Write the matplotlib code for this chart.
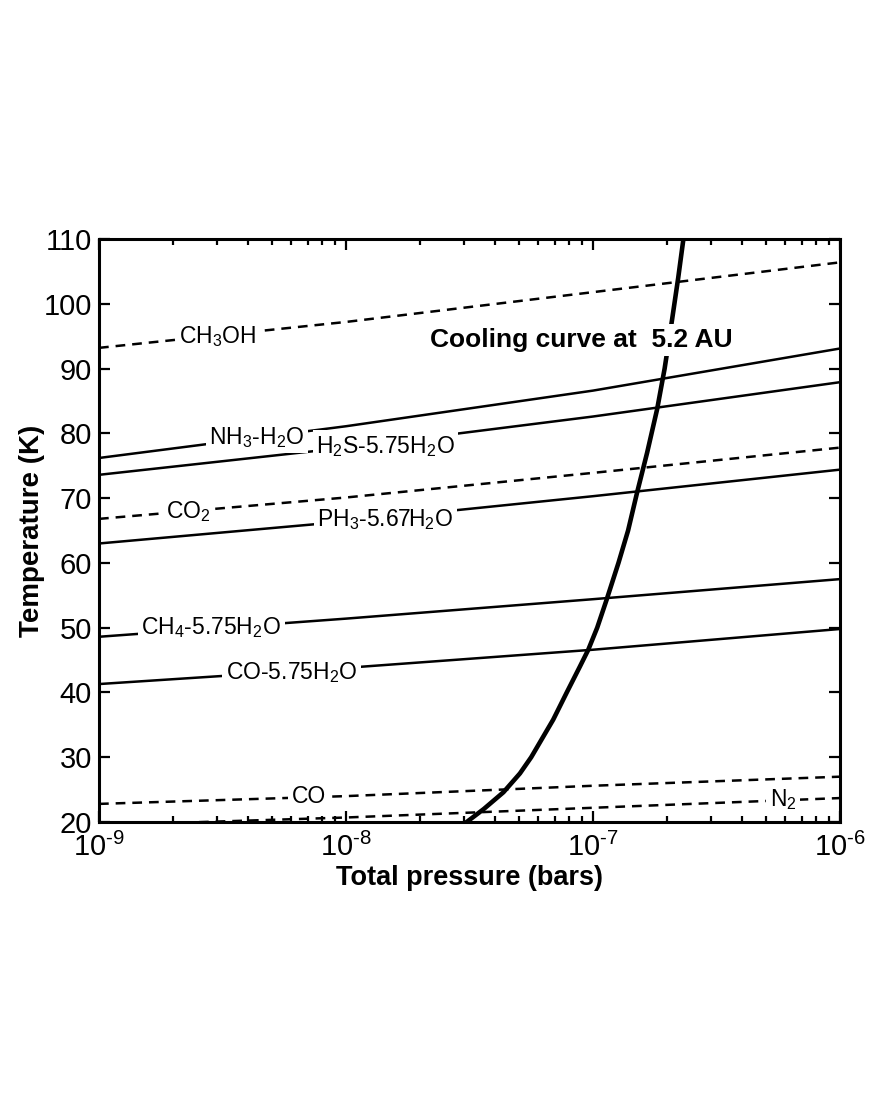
import numpy as np
import matplotlib
matplotlib.use("Agg")
import matplotlib.pyplot as plt
from matplotlib.ticker import LogLocator, NullFormatter, FixedLocator

plt.rcParams['font.family'] = ['Liberation Sans', 'DejaVu Sans']
plt.rcParams['mathtext.fontset'] = 'custom'
plt.rcParams['mathtext.rm'] = 'Liberation Sans'
plt.rcParams['mathtext.it'] = 'Liberation Sans:italic'
plt.rcParams['mathtext.bf'] = 'Liberation Sans:bold'
plt.rcParams['mathtext.default'] = 'regular'
plt.rcParams['axes.unicode_minus'] = False
plt.rcParams['lines.scale_dashes'] = False

# condensation curves, read at 1e-9, 1e-8, 1e-7, 1e-6 bar
pressure = [1e-9, 1e-8, 1e-7, 1e-6]
t_ch3oh = [93.2, 97.2, 101.8, 106.4]
t_nh3 = [76.2, 81.1, 86.6, 93.1]
t_h2s = [73.6, 77.8, 82.6, 87.9]
t_co2 = [66.8, 70.1, 73.9, 77.8]
t_ph3 = [63.0, 66.4, 70.3, 74.4]
t_ch4 = [48.6, 51.4, 54.4, 57.5]
t_co_h2o = [41.3, 43.8, 46.6, 49.8]
t_co = [22.8, 24.0, 25.6, 27.0]
t_n2 = [19.5, 20.7, 22.2, 23.7]

# cooling curve at 5.2 AU
cool_p = [2.34e-8, 3.08e-8, 3.61e-8, 4.34e-8, 5.06e-8, 5.62e-8, 6.90e-8, 7.83e-8,
          8.85e-8, 9.57e-8, 1.040e-7, 1.135e-7, 1.268e-7, 1.387e-7, 1.507e-7,
          1.656e-7, 1.820e-7, 1.950e-7, 2.089e-7, 2.213e-7, 2.323e-7, 2.399e-7]
cool_t = [17.0, 20.0, 22.0, 24.6, 27.5, 30.0, 35.8, 40.0,
          44.0, 46.6, 50.0, 54.3, 60.0, 65.0, 70.8,
          77.0, 83.8, 90.0, 97.5, 104.0, 110.0, 114.0]

# (curve, dashed?, label, label log10 P, label T)
curves = [
    (t_ch3oh, True, r'CH$_3$OH', -8.52, 95.0),
    (t_nh3, False, r'NH$_3$-H$_2$O', -8.36, 79.4),
    (t_h2s, False, r'H$_2$S-5.75H$_2$O', -7.84, 78.0),
    (t_co2, True, r'CO$_2$', -8.64, 67.9),
    (t_ph3, False, r'PH$_3$-5.67H$_2$O', -7.84, 66.7),
    (t_ch4, False, r'CH$_4$-5.75H$_2$O', -8.545, 50.0),
    (t_co_h2o, False, r'CO-5.75H$_2$O', -8.22, 43.0),
    (t_co, True, 'CO', -8.15, 23.9),
    (t_n2, True, r'N$_2$', -6.23, 23.4),
]

fig = plt.figure(figsize=(8.7, 11), dpi=100)
ax = fig.add_axes([0.1138, 0.2527, 0.8517, 0.5300])

for temps, dashed, label, lx, ly in curves:
    ls = (0, (7, 5)) if dashed else '-'
    ax.plot(pressure, temps, color='black', lw=1.8, linestyle=ls, zorder=2)
    ax.text(10**lx, ly, label, fontsize=16.5, ha='center', va='center', zorder=3,
            bbox=dict(facecolor='white', edgecolor='none', pad=2.5))

ax.plot(cool_p, cool_t, color='black', lw=3.3, zorder=2.5)
ax.text(10**-7.66, 94.4, 'Cooling curve at  5.2 AU', fontsize=19, fontweight='bold',
        ha='left', va='center', zorder=4,
        bbox=dict(facecolor='white', edgecolor='none', pad=3))

ax.set_xscale('log')
ax.set_xlim(1e-9, 1e-6)
ax.set_ylim(20, 110)
ax.xaxis.set_major_locator(FixedLocator([1e-9, 1e-8, 1e-7, 1e-6]))
ax.xaxis.set_minor_locator(LogLocator(base=10, subs=np.arange(2, 10), numticks=20))
ax.xaxis.set_minor_formatter(NullFormatter())
ax.set_xticklabels([r'$10^{\text{-9}}$', r'$10^{\text{-8}}$', r'$10^{\text{-7}}$', r'$10^{\text{-6}}$'])
ax.set_yticks(np.arange(20, 111, 10))

ax.tick_params(which='both', direction='in', top=True, right=True, width=1.6, labelsize=21)
ax.tick_params(which='major', length=8, pad=5)
ax.tick_params(axis='x', which='major', pad=8)
ax.tick_params(which='minor', length=4.5)
for s in ax.spines.values():
    s.set_linewidth(2.2)

ax.set_xlabel('Total pressure (bars)', fontsize=19.5, fontweight='bold', labelpad=2)
ax.set_ylabel('Temperature (K)', fontsize=20, fontweight='bold', labelpad=-1)

fig.savefig('out.png', dpi=100)
